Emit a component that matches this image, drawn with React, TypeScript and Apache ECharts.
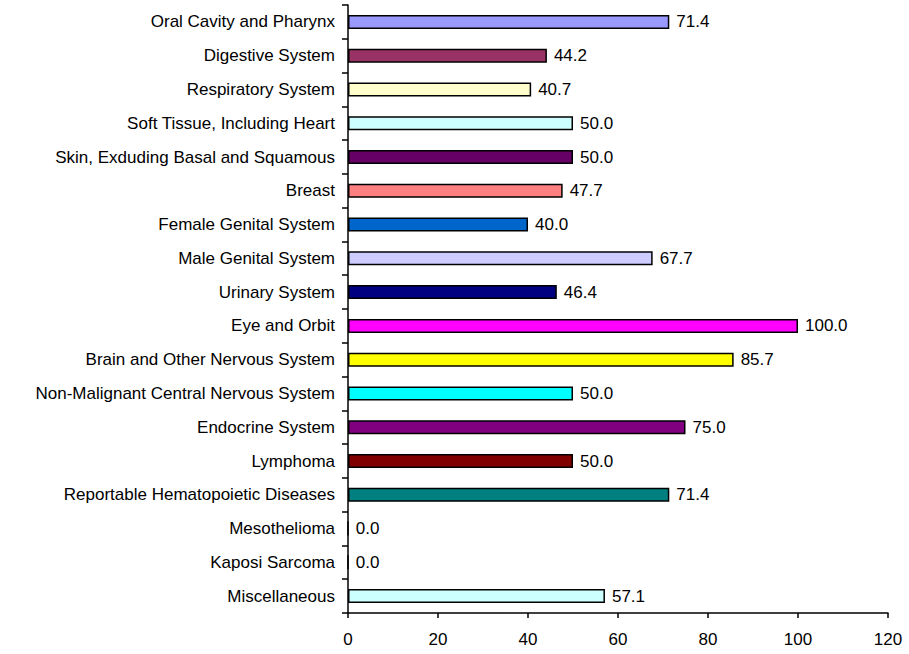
import React, { useEffect, useRef } from "react";
import * as echarts from "echarts";

const categories = [
  "Oral Cavity and Pharynx",
  "Digestive System",
  "Respiratory System",
  "Soft Tissue, Including Heart",
  "Skin, Exduding Basal and Squamous",
  "Breast",
  "Female Genital System",
  "Male Genital System",
  "Urinary System",
  "Eye and Orbit",
  "Brain and Other Nervous System",
  "Non-Malignant Central Nervous System",
  "Endocrine System",
  "Lymphoma",
  "Reportable Hematopoietic Diseases",
  "Mesothelioma",
  "Kaposi Sarcoma",
  "Miscellaneous",
];

const values = [71.4, 44.2, 40.7, 50.0, 50.0, 47.7, 40.0, 67.7, 46.4, 100.0, 85.7, 50.0, 75.0, 50.0, 71.4, 0.0, 0.0, 57.1];

const barColors = [
  "#9999FF", "#993366", "#FFFFCC", "#CCFFFF", "#660066", "#FF8080",
  "#0066CC", "#CCCCFF", "#000080", "#FF00FF", "#FFFF00", "#00FFFF",
  "#800080", "#800000", "#008080", "#0000FF", "#FF0000", "#CCFFFF",
];

const xTicks = [0, 20, 40, 60, 80, 100, 120];

export default function App() {
  const ref = useRef<HTMLDivElement>(null);

  useEffect(() => {
    if (!ref.current) return;
    const chart = echarts.init(ref.current, null, { renderer: "svg" });
    const font = "Liberation Sans, Arial, sans-serif";
    chart.setOption({
      animation: false,
      textStyle: { fontFamily: font },
      grid: { left: 348, right: 21, top: 5, bottom: 41, containLabel: false },
      xAxis: {
        type: "value",
        min: xTicks[0],
        max: xTicks[xTicks.length - 1],
        interval: 20,
        axisLine: { show: true, lineStyle: { color: "#000", width: 1.5 } },
        axisTick: { show: true, length: 5, lineStyle: { color: "#000", width: 1.5 } },
        splitLine: { show: false },
        axisLabel: { color: "#000", fontSize: 17, fontFamily: font, margin: 18 },
      },
      yAxis: {
        type: "category",
        data: categories,
        inverse: true,
        axisLine: { show: true, lineStyle: { color: "#000", width: 1.5 } },
        axisTick: { show: true, length: 6, lineStyle: { color: "#000", width: 1.5 } },
        axisLabel: { color: "#000", fontSize: 17, fontFamily: font, margin: 13 },
      },
      series: [
        {
          type: "bar",
          barWidth: 14,
          data: values.map((v, i) => ({
            value: v,
            itemStyle: { color: barColors[i], borderColor: "#000", borderWidth: 1.5 },
          })),
          label: {
            show: true,
            position: "right",
            distance: 7,
            color: "#000",
            fontSize: 17,
            fontFamily: font,
            formatter: (p: any) => Number(p.value).toFixed(1),
          },
        },
      ],
    });
    return () => chart.dispose();
  }, []);

  return (
    <div
      ref={ref}
      style={{ position: "absolute", left: 0, top: 0, width: 909, height: 654 }}
    />
  );
}
